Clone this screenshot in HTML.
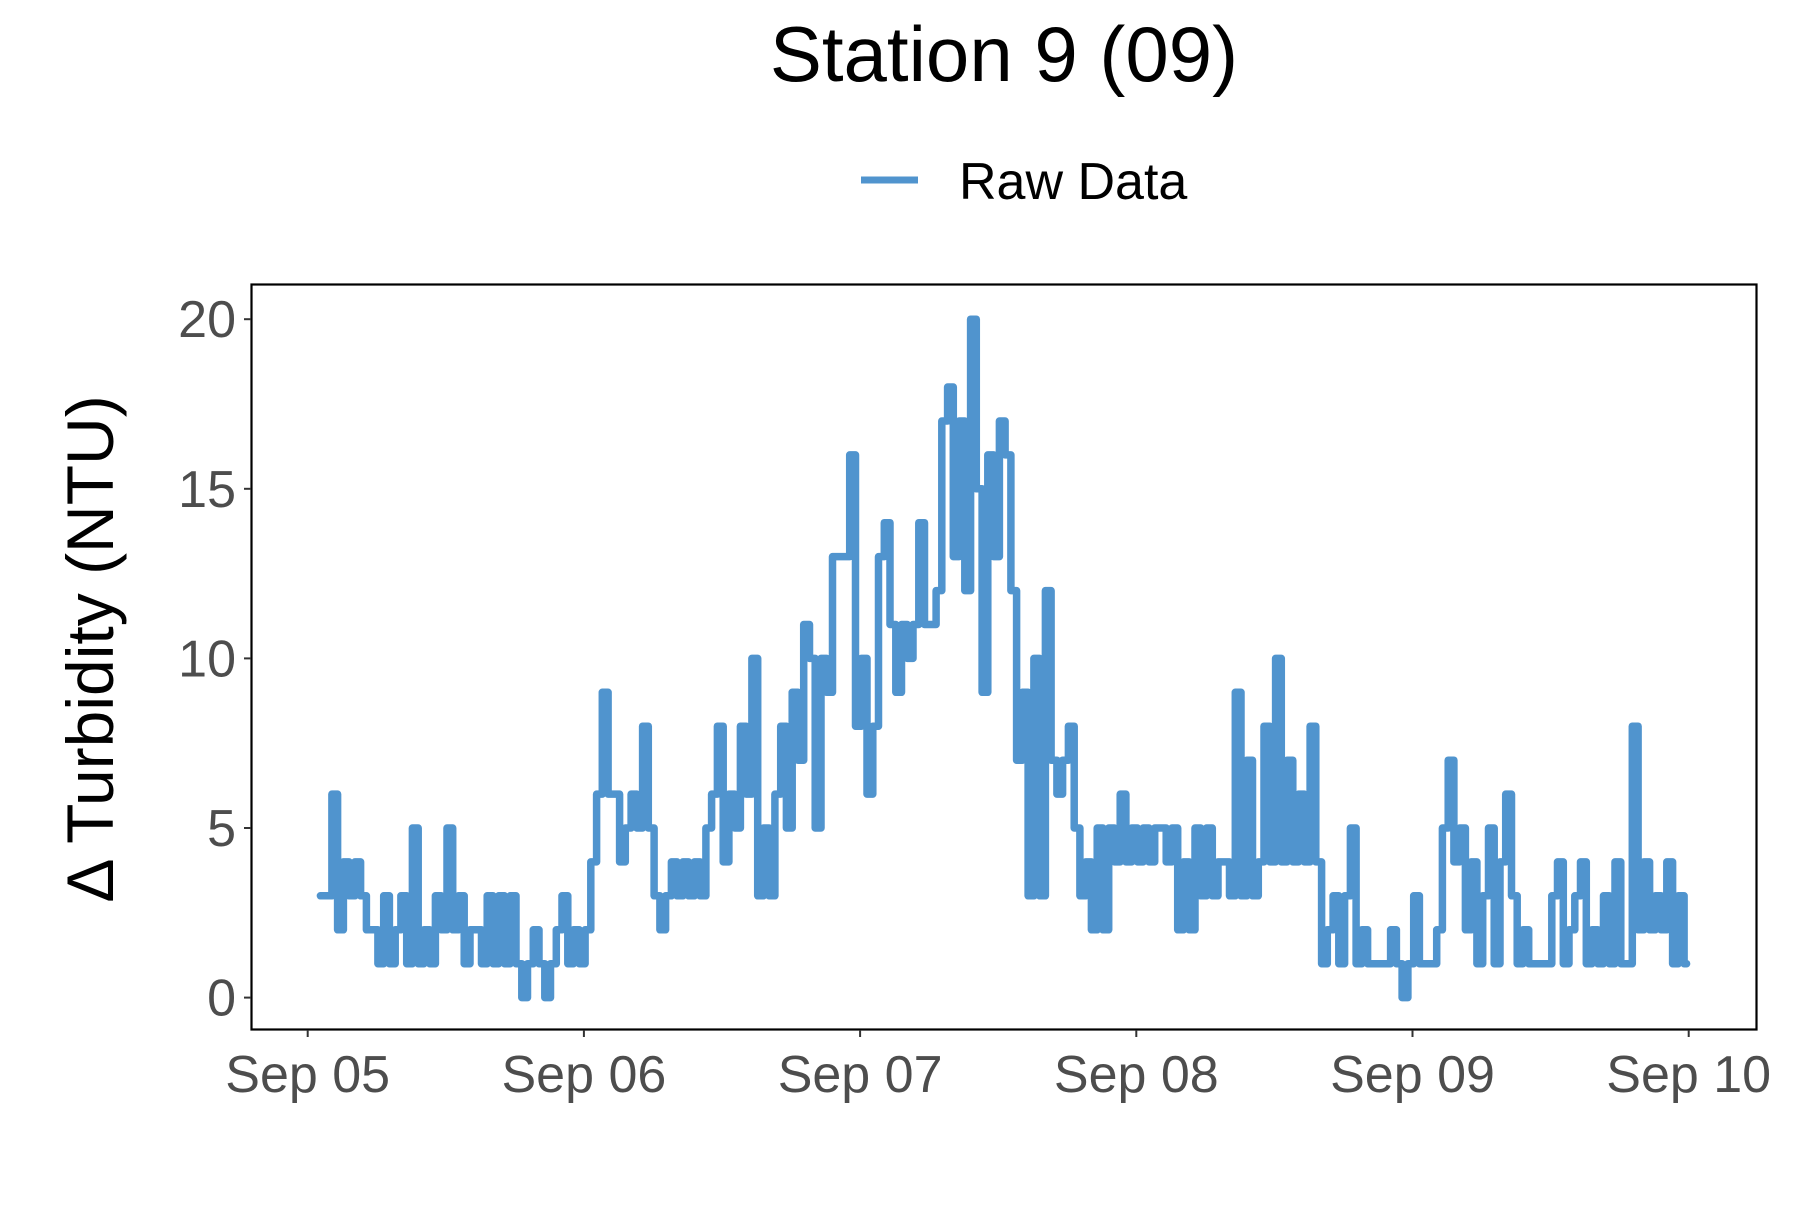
<!DOCTYPE html>
<html><head><meta charset="utf-8"><style>
body{margin:0;background:#fff}
svg text{font-family:"Liberation Sans",Arial,sans-serif}
</style></head><body>
<svg width="1800" height="1200" viewBox="0 0 1800 1200" xmlns="http://www.w3.org/2000/svg">
<rect width="1800" height="1200" fill="#fff"/>
<text x="1004" y="81" font-size="78" text-anchor="middle" fill="#000">Station 9 (09)</text>
<g>
<line x1="861" y1="180" x2="918" y2="180" stroke="#5094CE" stroke-width="7"/>
<text x="959" y="199" font-size="52" fill="#000">Raw Data</text>
</g>
<text transform="translate(113,649) rotate(-90)" font-size="66" text-anchor="middle" fill="#000">Δ Turbidity (NTU)</text>
<g id="plot"></g>
<rect x="251.5" y="284.5" width="1505" height="745" fill="none" stroke="#000" stroke-width="2.2"/>
<g id="axes"></g>
</svg>
<script>
const yTicks=[0,5,10,15,20];
const xTickLabels=["Sep 05","Sep 06","Sep 07","Sep 08","Sep 09","Sep 10"];
const startHour=1.1;
const stepHour=0.5;
const values=[
3,3,6,2,4,3,4,3,2,2,
1,3,1,2,3,1,5,1,2,1,
3,2,5,2,3,1,2,2,1,3,
1,3,1,3,1,0,1,2,1,0,
1,2,3,1,2,1,2,4,6,9,
6,6,4,5,6,5,8,5,3,2,
3,4,3,4,3,4,3,5,6,8,
4,6,5,8,6,10,3,5,3,6,
8,5,9,7,11,10,5,10,9,13,
13,13,16,8,10,6,8,13,14,11,
9,11,10,11,14,11,11,12,17,18,
13,17,12,20,15,9,16,13,17,16,
12,7,9,3,10,3,12,7,6,7,
8,5,3,4,2,5,2,5,4,6,
4,5,4,5,4,5,5,4,5,2,
4,2,5,3,5,3,4,4,3,9,
3,7,3,4,8,4,10,4,7,4,
6,4,8,4,1,2,3,1,3,5,
1,2,1,1,1,1,2,1,0,1,
3,1,1,1,2,5,7,4,5,2,
4,1,3,5,1,4,6,3,1,2,
1,1,1,1,3,4,1,2,3,4,
1,2,1,3,1,4,1,1,8,2,
4,2,3,2,4,1,3,1];
const NS="http://www.w3.org/2000/svg";
function xScale(hours){return 307.7+hours/24*276.2;}
function yScale(v){return 997.6-v*33.92;}
const plot=document.getElementById('plot');
const axes=document.getElementById('axes');
let d="";
values.forEach((v,i)=>{
 const x=xScale(startHour+i*stepHour).toFixed(1), y=yScale(v).toFixed(1);
 if(i===0){d+="M"+x+","+y;}
 else{d+="L"+x+","+yScale(values[i-1]).toFixed(1)+"L"+x+","+y;}
 d+="L"+(parseFloat(x)+2.5).toFixed(1)+","+y;
});
const p=document.createElementNS(NS,'path');
p.setAttribute('d',d);p.setAttribute('fill','none');p.setAttribute('stroke','#5094CE');
p.setAttribute('stroke-width','7.5');p.setAttribute('stroke-linejoin','round');p.setAttribute('stroke-linecap','round');


plot.appendChild(p);
yTicks.forEach(t=>{
 const y=yScale(t);
 const l=document.createElementNS(NS,'line');
 l.setAttribute('x1',244);l.setAttribute('x2',251);l.setAttribute('y1',y);l.setAttribute('y2',y);
 l.setAttribute('stroke','#333');l.setAttribute('stroke-width','2');
 
 
 axes.appendChild(l);
 const tx=document.createElementNS(NS,'text');
 tx.setAttribute('x',236);tx.setAttribute('y',y+18);tx.setAttribute('font-size','52');
 tx.setAttribute('text-anchor','end');tx.setAttribute('fill','#4D4D4D');tx.textContent=t;
 
 
 axes.appendChild(tx);
});
xTickLabels.forEach((lab,i)=>{
 const x=xScale(i*24);
 const l=document.createElementNS(NS,'line');
 l.setAttribute('x1',x);l.setAttribute('x2',x);l.setAttribute('y1',1030);l.setAttribute('y2',1037);
 l.setAttribute('stroke','#333');l.setAttribute('stroke-width','2');
 
 
 axes.appendChild(l);
 const tx=document.createElementNS(NS,'text');
 tx.setAttribute('x',x);tx.setAttribute('y',1092);tx.setAttribute('font-size','52');
 tx.setAttribute('text-anchor','middle');tx.setAttribute('fill','#4D4D4D');tx.textContent=lab;
 
 
 axes.appendChild(tx);
});
</script>
</body></html>
